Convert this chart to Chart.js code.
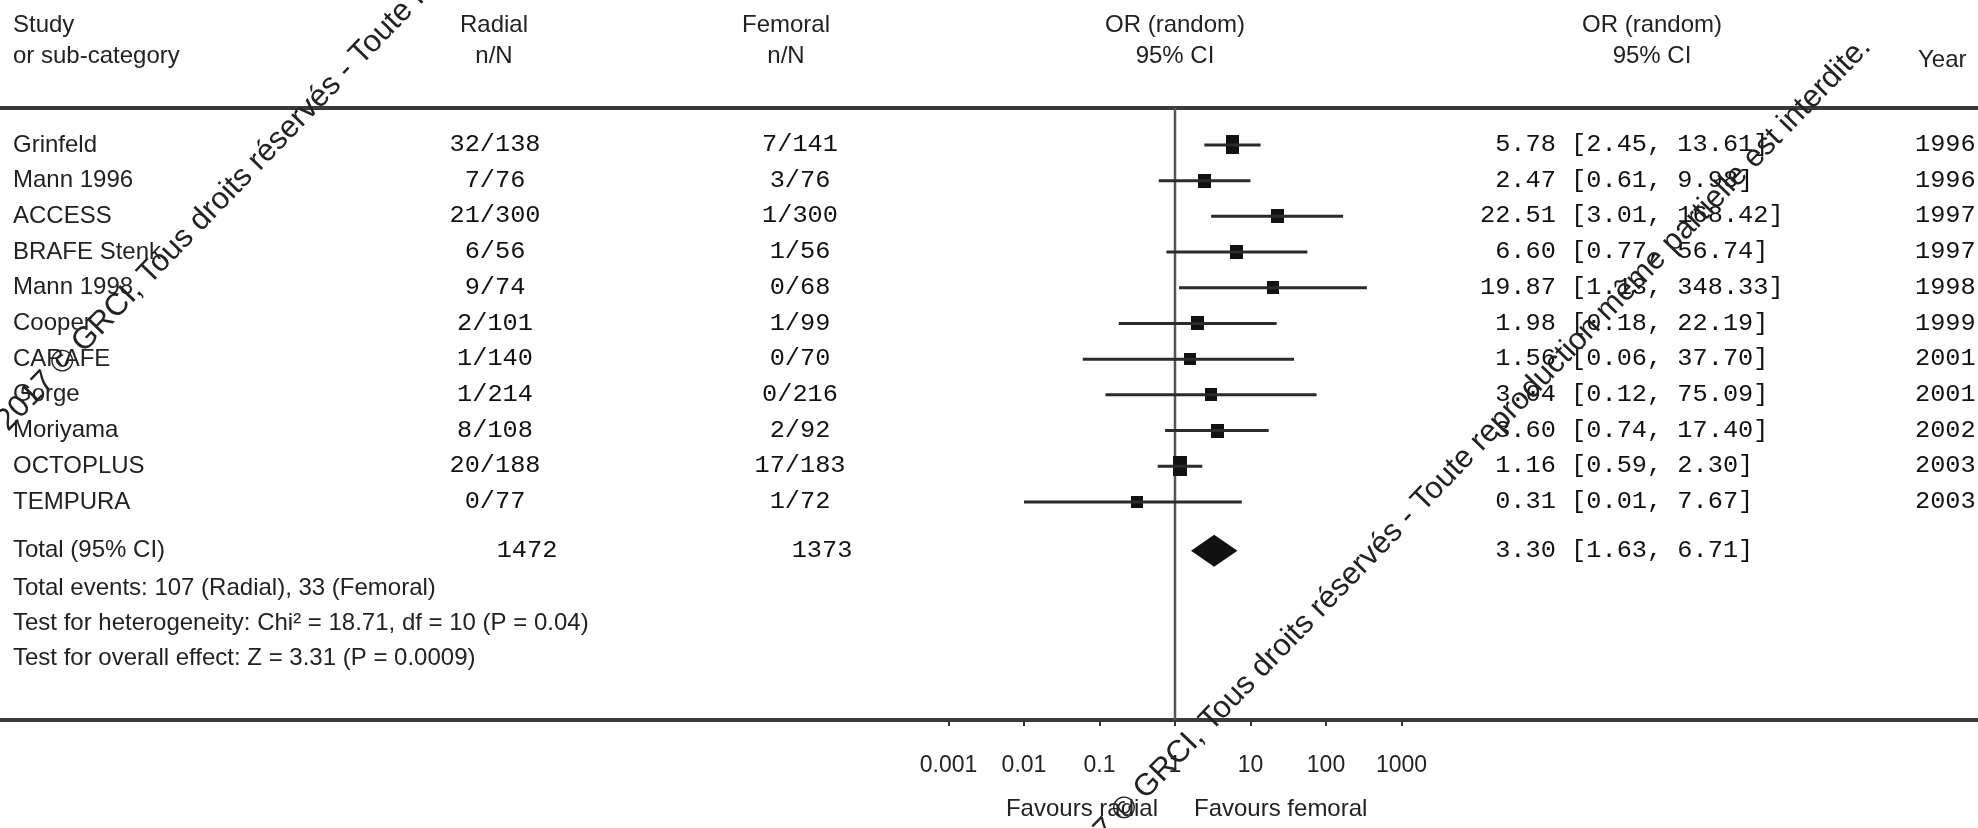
<!DOCTYPE html>
<html>
<head>
<meta charset="utf-8">
<script src="https://cdn.jsdelivr.net/npm/chart.js@4.4.1/dist/chart.umd.min.js"></script>
<style>
html, body { margin:0; padding:0; background:#fff; }
#wrap { position:relative; width:1978px; height:828px; }
</style>
</head>
<body>
<div id="wrap"><canvas id="forest"></canvas></div>
<script>
// ------------------------------
// Data
// ------------------------------

const studies = ["Grinfeld","Mann 1996","ACCESS","BRAFE Stenk","Mann 1998","Cooper","CARAFE","Gorge","Moriyama","OCTOPLUS","TEMPURA"];
const radialEvents = ["32/138","7/76","21/300","6/56","9/74","2/101","1/140","1/214","8/108","20/188","0/77"];
const femoralEvents = ["7/141","3/76","1/300","1/56","0/68","1/99","0/70","0/216","2/92","17/183","1/72"];
const oddsRatios = [5.78,2.47,22.51,6.60,19.87,1.98,1.56,3.04,3.60,1.16,0.31];
const ciLower = [2.45,0.61,3.01,0.77,1.13,0.18,0.06,0.12,0.74,0.59,0.01];
const ciUpper = [13.61,9.98,168.42,56.74,348.33,22.19,37.70,75.09,17.40,2.30,7.67];
const years = ["1996","1996","1997","1997","1998","1999","2001","2001","2002","2003","2003"];
const weights = [17,8,7,7,6,7,4,5,8,20,4]; // % weight

const totalOR = 3.30, totalLower = 1.63, totalUpper = 6.71;
const totalRadial = 1472, totalFemoral = 1373;
const summaryLines = [
  "Total events: 107 (Radial), 33 (Femoral)",
  "Test for heterogeneity: Chi\u00b2 = 18.71, df = 10 (P = 0.04)",
  "Test for overall effect: Z = 3.31 (P = 0.0009)"
];
const tickValues = [0.001,0.01,0.1,1,10,100,1000];

// ------------------------------
// Layout
// ------------------------------

const W = 1978, H = 828;
const SANS = "Liberation Sans, Arial, sans-serif";
const MONO = "Liberation Mono, Courier New, monospace";
const INK = "#222";
const colStudy = 13, colRadial = 495, colFemoral = 800, colCI = 1480, colCIHead = 1652, colYear = 1915;
const headRadial = 494, headFemoral = 786;
const totalRow = 11.37;
const summaryRows = [12.41, 13.39, 14.37];

function txt(ctx, s, x, y, font, align, sx, color) {
  ctx.save();
  ctx.font = font;
  ctx.fillStyle = color || INK;
  ctx.textAlign = align || "left";
  ctx.textBaseline = "middle";
  ctx.translate(x, y);
  ctx.scale(sx || 1, 1);
  ctx.fillText(s, 0, 0);
  ctx.restore();
}

function ciText(or, lo, hi) {
  return or.toFixed(2).padStart(5) + " [" + lo.toFixed(2) + ", " + hi.toFixed(2) + "]";
}

// weight box, a bit taller than wide as in the scanned figure
function weightBox(w) {
  const c = document.createElement("canvas");
  c.width = Math.round(12 + 0.08 * w);
  c.height = Math.round(10 + 0.5 * w);
  const g = c.getContext("2d");
  g.fillStyle = "#111";
  g.fillRect(0, 0, c.width, c.height);
  return c;
}

const forestPlugin = {
  id: "forest",
  beforeDatasetsDraw(chart) {
    const ctx = chart.ctx, a = chart.chartArea, x = chart.scales.x;
    ctx.save();
    ctx.strokeStyle = "#3a3a3a";
    ctx.lineWidth = 4;
    ctx.beginPath();
    ctx.moveTo(0, a.top); ctx.lineTo(W, a.top);
    ctx.moveTo(0, a.bottom); ctx.lineTo(W, a.bottom);
    ctx.stroke();
    ctx.lineWidth = 2.5;
    ctx.strokeStyle = "#555";
    const x1 = x.getPixelForValue(1);
    ctx.beginPath();
    ctx.moveTo(x1, a.top); ctx.lineTo(x1, a.bottom);
    ctx.stroke();
    ctx.restore();
  },
  afterDatasetsDraw(chart) {
    const ctx = chart.ctx, x = chart.scales.x, y = chart.scales.y;
    // pooled diamond
    const yc = y.getPixelForValue(totalRow);
    ctx.save();
    ctx.fillStyle = "#111";
    ctx.beginPath();
    ctx.moveTo(x.getPixelForValue(totalLower), yc);
    ctx.lineTo(x.getPixelForValue(totalOR), yc - 16);
    ctx.lineTo(x.getPixelForValue(totalUpper), yc);
    ctx.lineTo(x.getPixelForValue(totalOR), yc + 16);
    ctx.closePath();
    ctx.fill();
    ctx.restore();
  },
  afterDraw(chart) {
    const ctx = chart.ctx, x = chart.scales.x, y = chart.scales.y;
    const sans = "24px " + SANS, mono = "23px " + MONO;
    const x1 = x.getPixelForValue(1);

    // header
    txt(ctx, "Study", colStudy, 25, sans);
    txt(ctx, "or sub-category", colStudy, 56, sans);
    txt(ctx, "Radial", headRadial, 25, sans, "center");
    txt(ctx, "n/N", headRadial, 56, sans, "center");
    txt(ctx, "Femoral", headFemoral, 25, sans, "center");
    txt(ctx, "n/N", headFemoral, 56, sans, "center");
    txt(ctx, "OR (random)", x1, 25, sans, "center");
    txt(ctx, "95% CI", x1, 56, sans, "center");
    txt(ctx, "OR (random)", colCIHead, 25, sans, "center");
    txt(ctx, "95% CI", colCIHead, 56, sans, "center");
    txt(ctx, "Year", colYear + 3, 60, sans);

    // study rows
    studies.forEach((s, i) => {
      const yp = y.getPixelForValue(i);
      txt(ctx, s, colStudy, yp, sans);
      txt(ctx, radialEvents[i], colRadial, yp, mono, "center", 1.1, "#111");
      txt(ctx, femoralEvents[i], colFemoral, yp, mono, "center", 1.1, "#111");
      txt(ctx, ciText(oddsRatios[i], ciLower[i], ciUpper[i]), colCI, yp, mono, "left", 1.1, "#111");
      txt(ctx, years[i], colYear, yp, mono, "left", 1.1, "#111");
    });

    // totals and summary
    const yt = y.getPixelForValue(totalRow);
    txt(ctx, "Total (95% CI)", colStudy, yt, sans);
    txt(ctx, String(totalRadial), colRadial + 32, yt, mono, "center", 1.1, "#111");
    txt(ctx, String(totalFemoral), colFemoral + 22, yt, mono, "center", 1.1, "#111");
    txt(ctx, ciText(totalOR, totalLower, totalUpper), colCI, yt, mono, "left", 1.1, "#111");
    summaryLines.forEach((s, k) => txt(ctx, s, colStudy, y.getPixelForValue(summaryRows[k]), sans));

    // favours labels
    txt(ctx, "Favours radial", x1 - 17, 809, sans, "right");
    txt(ctx, "Favours femoral", x1 + 19, 809, sans, "left");

    // diagonal notice printed across the original figure
    const notice = "2017 \u00a9 GRCI, Tous droits r\u00e9serv\u00e9s - Toute reproduction m\u00eame partielle est interdite.";
    const ang = -46 * Math.PI / 180;
    ctx.save();
    ctx.font = "31px " + SANS;
    ctx.fillStyle = "#222";
    ctx.translate(8, 432);
    ctx.rotate(ang);
    ctx.textAlign = "left";
    ctx.fillText(notice, 0, 0);
    ctx.restore();
    ctx.save();
    ctx.font = "31px " + SANS;
    ctx.fillStyle = "#222";
    ctx.translate(1872, 48);
    ctx.rotate(ang);
    ctx.textAlign = "right";
    ctx.fillText(notice, 0, 0);
    ctx.restore();
  }
};

// ------------------------------
// Chart
// ------------------------------

const whiskers = [];
studies.forEach((s, i) => {
  whiskers.push({x: ciLower[i], y: i}, {x: ciUpper[i], y: i}, {x: ciUpper[i], y: null});
});

const canvas = document.getElementById("forest");
canvas.width = W; canvas.height = H;

new Chart(canvas, {
  type: "scatter",
  data: {
    datasets: [
      {
        type: "line",
        data: whiskers,
        borderColor: "#2b2b2b",
        borderWidth: 3,
        pointRadius: 0,
        spanGaps: false,
        fill: false
      },
      {
        data: oddsRatios.map((v, i) => ({x: v, y: i})),
        pointStyle: weights.map(weightBox),
        pointRadius: 8,
        backgroundColor: "#111",
        borderWidth: 0
      }
    ]
  },
  options: {
    responsive: false,
    animation: false,
    layout: { padding: { left: 873, right: 501, top: 108, bottom: 0 } },
    plugins: { legend: { display: false }, tooltip: { enabled: false } },
    scales: {
      x: {
        type: "logarithmic",
        min: 1e-4,
        max: 1e4,
        afterBuildTicks: s => { s.ticks = tickValues.map(v => ({value: v})); },
        afterFit: s => { s.height = 108; },
        ticks: {
          autoSkip: false,
          maxRotation: 0,
          padding: 26,
          color: INK,
          font: { family: SANS, size: 23 },
          callback: v => String(v)
        },
        grid: { drawOnChartArea: false, drawTicks: true, tickLength: 6, color: "#333", lineWidth: 2 },
        border: { display: false }
      },
      y: {
        type: "linear",
        reverse: true,
        min: -1.036,
        max: 16.11,
        display: false
      }
    }
  },
  plugins: [forestPlugin]
});
</script>
</body>
</html>
